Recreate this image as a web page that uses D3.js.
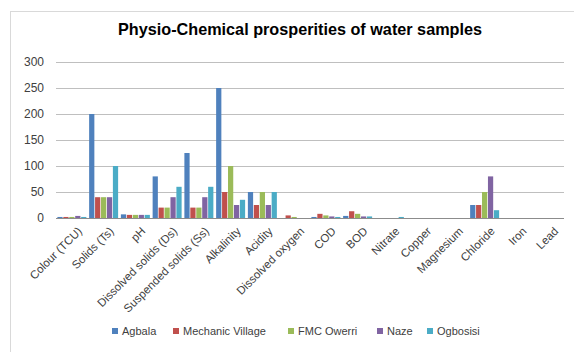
<!DOCTYPE html>
<html>
<head>
<meta charset="utf-8">
<script src="https://cdn.jsdelivr.net/npm/d3@7"></script>
<style>
  html, body { margin: 0; padding: 0; background: #fff; }
  svg { display: block; font-family: "Liberation Sans", Arial, sans-serif; }
</style>
</head>
<body>
<svg id="chart" width="574" height="352"></svg>
<script>
// Parameters measured for each water sample
const categories = ["Colour (TCU)", "Solids (Ts)", "pH", "Dissolved solids (Ds)", "Suspended solids (Ss)",
  "Alkalinity", "Acidity", "Dissolved oxygen", "COD", "BOD", "Nitrate", "Copper", "Magnesium",
  "Chloride", "Iron", "Lead"];
const seriesNames = ["Agbala", "Mechanic Village", "FMC Owerri", "Naze", "Ogbosisi"];
const agbala          = [2, 200, 7, 80, 125, 250, 50, 0, 2, 4, 0, 0, 0, 25, 0, 0];
const mechanicVillage = [2, 40, 6, 20, 20, 50, 25, 5, 8, 13, 0, 0, 0, 25, 0, 0];
const fmcOwerri       = [2, 40, 6, 20, 20, 100, 50, 2, 5, 8, 0, 0, 0, 50, 0, 0];
const naze            = [4, 40, 6, 40, 40, 25, 25, 0, 3, 3, 0, 0, 0, 80, 0, 0];
const ogbosisi        = [2, 100, 6, 60, 60, 35, 50, 0, 2, 3, 2, 0, 0, 15, 0, 0];
const yTicks = [0, 50, 100, 150, 200, 250, 300];

const seriesValues = [agbala, mechanicVillage, fmcOwerri, naze, ogbosisi];
const colors = ["#4F81BD", "#C0504D", "#9BBB59", "#8064A2", "#4BACC6"];

const svg = d3.select("#chart");

// chart frame
svg.append("rect")
  .attr("x", 10.5).attr("y", 11.5)
  .attr("width", 600).attr("height", 400)
  .attr("fill", "#fff").attr("stroke", "#d9d9d9");

// title
svg.append("text")
  .attr("x", 300).attr("y", 35)
  .attr("text-anchor", "middle")
  .attr("font-size", 17).attr("font-weight", "bold")
  .attr("fill", "#000")
  .attr("textLength", 364).attr("lengthAdjust", "spacingAndGlyphs")
  .text("Physio-Chemical prosperities of water samples");

const plot = { left: 56, right: 564, top: 62, bottom: 218 };

const y = d3.scaleLinear().domain([0, 300]).range([plot.bottom, plot.top]);
const x0 = d3.scaleBand().domain(categories)
  .range([plot.left, plot.right]).paddingInner(0.087).paddingOuter(0.0435);
const x1 = d3.scaleBand().domain(d3.range(seriesNames.length))
  .range([0, x0.bandwidth()]).paddingInner(0.12).paddingOuter(0);

// gridlines and value labels
const yAxis = d3.axisLeft(y).tickValues(yTicks).tickSize(-(plot.right - plot.left)).tickPadding(12);
const gy = svg.append("g").attr("transform", `translate(${plot.left},0)`).call(yAxis);
gy.select(".domain").remove();
gy.selectAll(".tick line").attr("stroke", "#bfbfbf").attr("stroke-width", 1);
gy.selectAll(".tick text").attr("font-size", 12).attr("fill", "#404040")
  .attr("font-family", "Liberation Sans, Arial, sans-serif");

// bars
const groups = svg.append("g").selectAll("g")
  .data(categories)
  .join("g")
  .attr("transform", d => `translate(${x0(d)},0)`);

groups.selectAll("rect")
  .data((d, i) => seriesValues.map((vals, s) => ({ s, v: vals[i] })))
  .join("rect")
  .attr("x", d => x1(d.s))
  .attr("width", x1.bandwidth())
  .attr("y", d => y(d.v))
  .attr("height", d => y(0) - y(d.v))
  .attr("fill", d => colors[d.s]);

// category axis
const xAxis = d3.axisBottom(x0).tickSize(0).tickPadding(0);
const gx = svg.append("g").attr("transform", `translate(0,${plot.bottom})`).call(xAxis);
gx.select(".domain").attr("stroke", "#8c8c8c").attr("d", `M${plot.left},0.5H${plot.right}`);
gx.selectAll(".tick text")
  .attr("font-size", 11.5).attr("fill", "#404040")
  .attr("font-family", "Liberation Sans, Arial, sans-serif")
  .attr("text-anchor", "end")
  .attr("dy", "0.35em")
  .attr("transform", "translate(8,11) rotate(-45)");

// legend
const legendItems = [
  { name: seriesNames[0], x: 112 },
  { name: seriesNames[1], x: 173 },
  { name: seriesNames[2], x: 288 },
  { name: seriesNames[3], x: 377 },
  { name: seriesNames[4], x: 427 }
];
const legendY = 331;
const lg = svg.append("g");
legendItems.forEach((item, i) => {
  lg.append("rect").attr("x", item.x).attr("y", legendY - 3)
    .attr("width", 6).attr("height", 6).attr("fill", colors[i]);
  lg.append("text").attr("x", item.x + 10).attr("y", legendY)
    .attr("dy", "0.35em").attr("font-size", 11).attr("fill", "#404040")
    .text(item.name);
});
</script>
</body>
</html>
